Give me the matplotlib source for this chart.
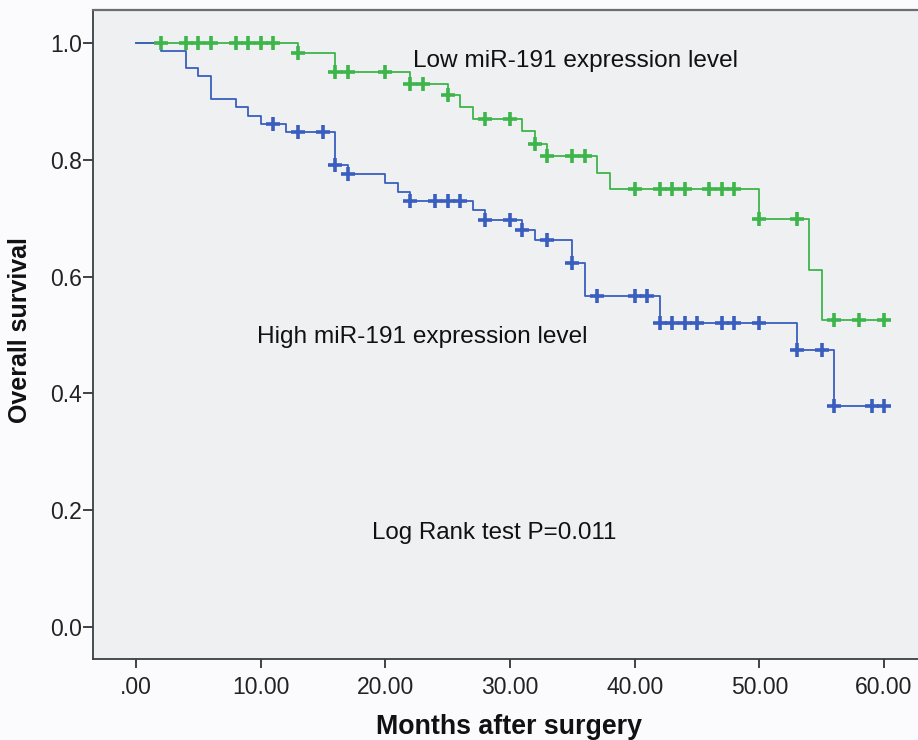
import numpy as np
import matplotlib
matplotlib.use("Agg")
import matplotlib.pyplot as plt

# ---- data ----
low_event_times = [13, 16, 22, 25, 26, 27, 31, 32, 33, 37, 38, 50, 54, 55]
low_surv = [0.984, 0.951, 0.931, 0.911, 0.891, 0.870, 0.849, 0.828, 0.806, 0.777, 0.750, 0.699, 0.612, 0.525]
low_censor = [2, 4, 5, 6, 8, 9, 10, 11, 13, 16, 17, 20, 22, 23, 25, 28, 30, 32, 33, 35, 36,
              40, 42, 43, 44, 46, 47, 48, 50, 53, 56, 58, 60]

high_event_times = [2, 4, 5, 6, 8, 9, 10, 12, 16, 17, 20, 21, 22, 27, 28, 31, 32, 35, 36, 42, 53, 56]
high_surv = [0.987, 0.957, 0.944, 0.904, 0.890, 0.876, 0.862, 0.848, 0.791, 0.776, 0.761, 0.745,
             0.730, 0.714, 0.697, 0.680, 0.663, 0.624, 0.566, 0.521, 0.474, 0.379]
high_censor = [11, 13, 15, 16, 17, 22, 24, 25, 26, 28, 30, 31, 33, 35, 37, 40, 41, 42, 43, 44, 45,
               47, 48, 50, 53, 55, 56, 59, 60]

end_time = 60
x_ticks = [0, 10, 20, 30, 40, 50, 60]
x_tick_labels = [".00", "10.00", "20.00", "30.00", "40.00", "50.00", "60.00"]
y_ticks = [0.0, 0.2, 0.4, 0.6, 0.8, 1.0]
y_tick_labels = ["0.0", "0.2", "0.4", "0.6", "0.8", "1.0"]

green = "#3db54a"
blue = "#3a5ebf"

plt.rcParams['font.family'] = ['Liberation Sans', 'DejaVu Sans']

fig = plt.figure(figsize=(9.18, 7.4), dpi=100, facecolor="#fbfbfd")
ax = fig.add_axes([93 / 918, 1 - 659 / 740, 1 - 93 / 918, (659 - 10) / 740])
ax.set_facecolor("#eef0f2")


def km_curve(ev_t, ev_s):
    t = np.array([0] + list(ev_t) + [end_time], dtype=float)
    s = np.array([1.0] + list(ev_s) + [ev_s[-1]], dtype=float)
    return t, s


def surv_at(ev_t, ev_s, times):
    out = []
    for c in times:
        v = 1.0
        for t, s in zip(ev_t, ev_s):
            if t <= c:
                v = s
        out.append(v)
    return out


for ev_t, ev_s, cens, col in [(low_event_times, low_surv, low_censor, green),
                              (high_event_times, high_surv, high_censor, blue)]:
    t, s = km_curve(ev_t, ev_s)
    ax.plot(t, s, drawstyle="steps-post", color=col, lw=1.3, zorder=3)
    ax.plot(cens, surv_at(ev_t, ev_s, cens), linestyle="none", marker="+",
            markersize=9.5, markeredgewidth=2.6, color=col, zorder=4)

ax.set_xlim(-3.45, 62.73)
ax.set_ylim(-0.0553, 1.057)
ax.set_xticks(x_ticks)
ax.set_xticklabels(x_tick_labels)
ax.set_yticks(y_ticks)
ax.set_yticklabels(y_tick_labels)
ax.tick_params(axis="x", length=6.5, width=1.2, pad=6, labelsize=16.5, colors="#222222",
               direction="out")
ax.tick_params(axis="y", length=7, width=1.2, pad=1, labelsize=16.5, colors="#222222",
               direction="out")

for side in ["left", "bottom"]:
    ax.spines[side].set_color("#3a3f45")
    ax.spines[side].set_linewidth(1.3)
ax.spines["top"].set_color("#6b6f74")
ax.spines["top"].set_linewidth(1.6)
ax.spines["right"].set_visible(False)

ax.text(22.2, 0.969, "Low miR-191 expression level", fontsize=17.6, ha="left", va="center",
        color="#111111")
ax.text(9.7, 0.497, "High miR-191 expression level", fontsize=17.6, ha="left", va="center",
        color="#111111")
ax.text(18.9, 0.161, "Log Rank test P=0.011", fontsize=17.4, ha="left", va="center",
        color="#111111")

fig.text(20 / 918, 1 - 330 / 740, "Overall survival", rotation=90, fontsize=18,
         fontweight="bold", ha="center", va="center", color="#111111")
fig.text(509 / 918, 1 - 727 / 740, "Months after surgery", fontsize=19.3,
         fontweight="bold", ha="center", va="center", color="#111111")

fig.savefig("out.png", dpi=100, facecolor=fig.get_facecolor())
